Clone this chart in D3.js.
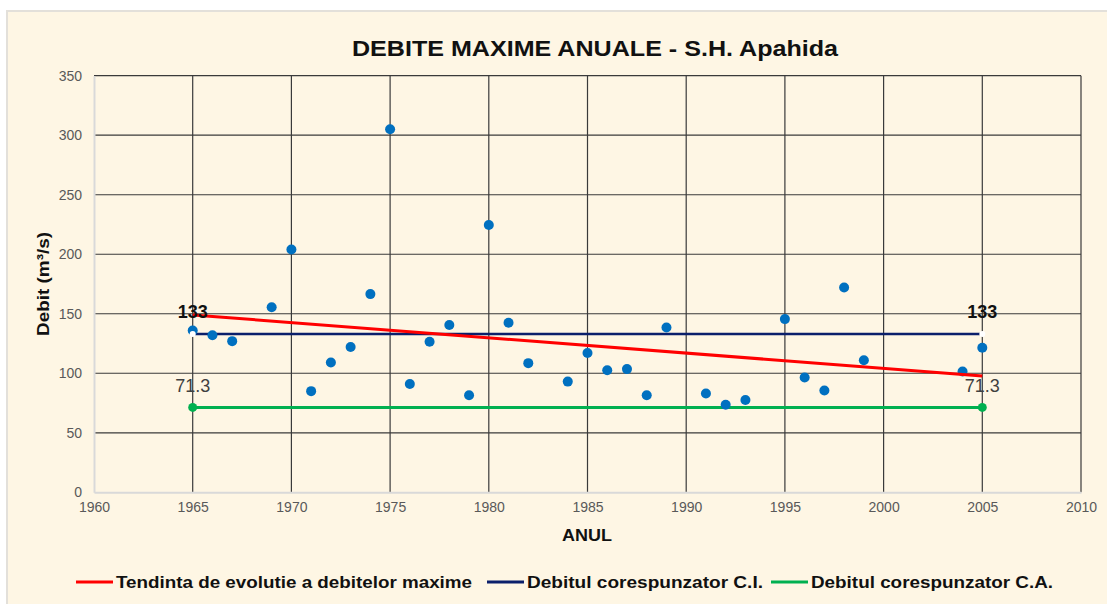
<!DOCTYPE html>
<html>
<head>
<meta charset="utf-8">
<script src="https://cdn.jsdelivr.net/npm/d3@7"></script>
<style>
  body { margin: 0; background: #fff; }
  svg { display: block; font-family: "Liberation Sans", Arial, sans-serif; }
</style>
</head>
<body>
<svg id="chart" width="1107" height="604"></svg>
<script>
// annual max discharge, S.H. Apahida
const years = [1965, 1966, 1967, 1969, 1970, 1971, 1972, 1973, 1974, 1975, 1976, 1977, 1978, 1979,
               1980, 1981, 1982, 1984, 1985, 1986, 1987, 1988, 1989, 1991, 1992, 1993, 1995, 1996,
               1997, 1998, 1999, 2004, 2005];
const debite = [136, 132, 127, 155.5, 204, 85, 109, 122, 166.5, 305, 91, 126.5, 140.5, 81.5,
                224.5, 142.5, 108.5, 93, 117, 102.5, 103.5, 81.5, 138.5, 83, 73.5, 77.5, 145.5, 96.5,
                85.5, 172, 111, 101.5, 121.5];

const lineYears = [1965, 2005];
const trend = [149, 97.7];
const debitCI = [133, 133];
const debitCA = [71.3, 71.3];

const xTicks = [1960, 1965, 1970, 1975, 1980, 1985, 1990, 1995, 2000, 2005, 2010];
const yTicks = [0, 50, 100, 150, 200, 250, 300, 350];

const legendNames = ["Tendinta de evolutie a debitelor maxime", "Debitul corespunzator C.I.", "Debitul corespunzator C.A."];
const legendColors = ["#ff0000", "#0b1f6b", "#00b050"];

const svg = d3.select("#chart");

// background with thin frame
svg.append("rect").attr("x", 0).attr("y", 0).attr("width", 1107).attr("height", 604).attr("fill", "#fff");
svg.append("rect").attr("x", 6).attr("y", 10).attr("width", 1101).attr("height", 594).attr("fill", "#e3e0da");
svg.append("rect").attr("x", 8).attr("y", 12).attr("width", 1099).attr("height", 592).attr("fill", "#fef6e4");

const x = d3.scaleLinear().domain([1960, 2010]).range([94, 1081]);
const y = d3.scaleLinear().domain([0, 350]).range([492.3, 75.7]);

// grid
svg.append("g").selectAll("line")
    .data(yTicks.filter(d => d > 0))
    .enter().append("line")
    .attr("x1", x(1960)).attr("x2", x(2010))
    .attr("y1", d => y(d)).attr("y2", d => y(d))
    .attr("stroke", "#3a3a3a").attr("stroke-width", 1.2);

svg.append("g").selectAll("line")
    .data(xTicks.filter(d => d > 1960))
    .enter().append("line")
    .attr("x1", d => x(d)).attr("x2", d => x(d))
    .attr("y1", y(0)).attr("y2", y(350))
    .attr("stroke", "#3a3a3a").attr("stroke-width", 1.2);

// axes (light lines)
const xAxis = svg.append("g")
    .attr("transform", `translate(0,${y(0)})`)
    .call(d3.axisBottom(x).tickValues(xTicks).tickFormat(d3.format("d")).tickSize(0).tickPadding(10));
const yAxis = svg.append("g")
    .attr("transform", `translate(${x(1960)},0)`)
    .call(d3.axisLeft(y).tickValues(yTicks).tickSize(0).tickPadding(12));
[xAxis, yAxis].forEach(a => {
    a.select(".domain").attr("stroke", "#d9d9d9").attr("stroke-width", 2);
    a.selectAll("text").attr("fill", "#595959").style("font-size", "14px");
});

// trend and reference lines
const line = d3.line().x((d, i) => x(lineYears[i])).y(d => y(d));

svg.append("path").datum(debitCA)
    .attr("fill", "none").attr("stroke", legendColors[2]).attr("stroke-width", 3).attr("d", line);
svg.selectAll(".caDot").data(debitCA).enter().append("circle")
    .attr("cx", (d, i) => x(lineYears[i])).attr("cy", d => y(d)).attr("r", 4.5)
    .attr("fill", legendColors[2]);

svg.append("path").datum(debitCI)
    .attr("fill", "none").attr("stroke", legendColors[1]).attr("stroke-width", 2.5).attr("d", line);

// observed maxima
svg.append("g").selectAll("circle")
    .data(debite)
    .enter().append("circle")
    .attr("cx", (d, i) => x(years[i]))
    .attr("cy", d => y(d))
    .attr("r", 5)
    .attr("fill", "#0070c0");

svg.selectAll(".ciDot").data(debitCI).enter().append("circle")
    .attr("cx", (d, i) => x(lineYears[i])).attr("cy", d => y(d)).attr("r", 3)
    .attr("fill", "#fff");

svg.append("path").datum(trend)
    .attr("fill", "none").attr("stroke", legendColors[0]).attr("stroke-width", 3).attr("d", line);

// value labels
svg.selectAll(".ciLab").data(debitCI).enter().append("text")
    .attr("x", (d, i) => x(lineYears[i])).attr("y", d => y(d) - 16)
    .attr("text-anchor", "middle")
    .style("font-size", "18px").style("font-weight", "bold").attr("fill", "#111")
    .text(d => d);
svg.selectAll(".caLab").data(debitCA).enter().append("text")
    .attr("x", (d, i) => x(lineYears[i])).attr("y", d => y(d) - 15)
    .attr("text-anchor", "middle")
    .style("font-size", "18px").attr("fill", "#404040")
    .text(d => d);

// titles
svg.append("text")
    .attr("x", 595).attr("y", 56)
    .attr("text-anchor", "middle")
    .style("font-size", "22px").style("font-weight", "bold").attr("fill", "#111")
    .attr("textLength", 486).attr("lengthAdjust", "spacingAndGlyphs")
    .text("DEBITE MAXIME ANUALE - S.H. Apahida");

svg.append("text")
    .attr("x", 587).attr("y", 541)
    .attr("text-anchor", "middle")
    .style("font-size", "17px").style("font-weight", "bold").attr("fill", "#111")
    .attr("textLength", 50).attr("lengthAdjust", "spacingAndGlyphs")
    .text("ANUL");

svg.append("text")
    .attr("transform", "translate(49,284) rotate(-90)")
    .attr("text-anchor", "middle")
    .style("font-size", "17px").style("font-weight", "bold").attr("fill", "#111")
    .attr("textLength", 104).attr("lengthAdjust", "spacingAndGlyphs")
    .text("Debit (m³/s)");

// legend
const legendX = [76, 487, 771];
const legendW = [356, 236, 242];
const lg = svg.append("g").selectAll("g")
    .data(legendNames)
    .enter().append("g")
    .attr("transform", (d, i) => `translate(${legendX[i]},582)`);
lg.append("line").attr("x1", 0).attr("x2", 37).attr("y1", 0).attr("y2", 0)
    .attr("stroke", (d, i) => legendColors[i]).attr("stroke-width", 3);
lg.append("text").attr("x", 40).attr("y", 6)
    .style("font-size", "17px").style("font-weight", "bold").attr("fill", "#111")
    .attr("textLength", (d, i) => legendW[i]).attr("lengthAdjust", "spacingAndGlyphs")
    .text(d => d);
</script>
</body>
</html>
